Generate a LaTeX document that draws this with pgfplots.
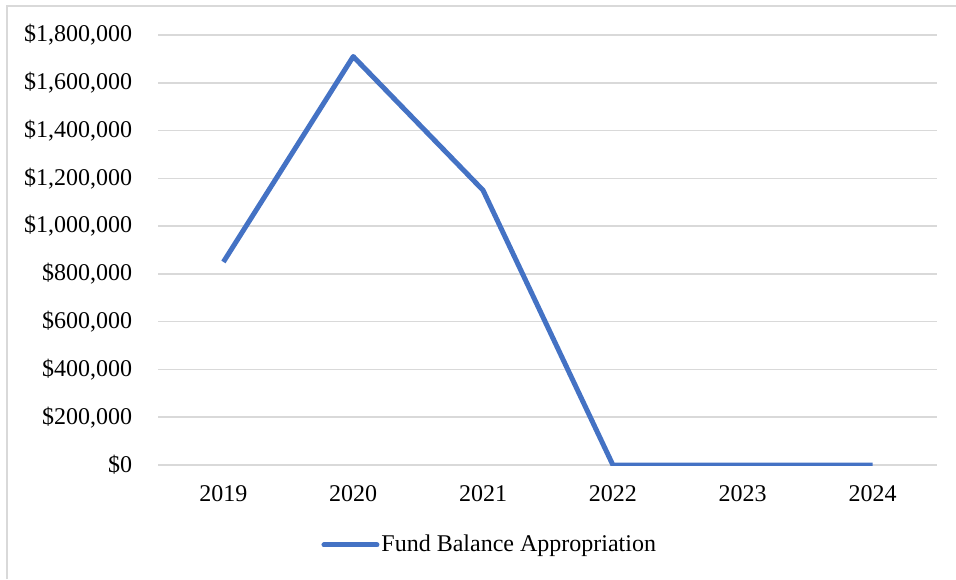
\documentclass[border=0pt]{standalone}
\usepackage{pgfplots}
\pgfplotsset{compat=1.18}
\usepackage{fontspec}
\setmainfont{Liberation Serif}
\definecolor{gridgray}{HTML}{D9D9D9}
\definecolor{lineblue}{HTML}{4472C4}
\begin{document}
\fontsize{12}{14}\selectfont
\begin{tikzpicture}
\path[use as bounding box] (0pt,0pt) rectangle (478pt,289.5pt);
\draw[gridgray, line width=0.8pt] (3.5pt,0pt) -- (3.5pt,286.5pt) -- (478pt,286.5pt);
\begin{axis}[
  at={(111.7pt,57pt)}, anchor=origin,
  scale only axis, width=389.5pt, height=215pt,
  xmin=-0.5, xmax=5.5, ymin=0, ymax=1800000,
  xtick={0,1,2,3,4,5},
  xticklabels={2019,2020,2021,2022,2023,2024},
  ytick={0,200000,400000,600000,800000,1000000,1200000,1400000,1600000,1800000},
  scaled y ticks=false,
  ymajorgrids, grid style={gridgray, line width=0.75pt},
  axis line style={draw=none},
  major tick length=0pt,
  /pgf/number format/assume math mode=true,
  yticklabel={\$\pgfmathprintnumber[fixed,precision=0,1000 sep={,}]{\tick}},
  yticklabel style={anchor=east, inner sep=0pt, xshift=-13pt},
  xticklabel style={anchor=north, inner sep=0pt, yshift=-10pt},
  tick label style={font=\fontsize{12}{14}\selectfont},
  legend style={at={(rel axis cs:0.201,-0.186)}, anchor=west, draw=none, fill=none,
    font=\fontsize{12}{14}\selectfont, nodes={inner sep=1pt}},
  legend image code/.code={\draw[#1, line cap=round] (0,0) -- (26.5pt,0);},
]
\addplot[lineblue, line width=2.5pt, line join=round] coordinates {
(0,850000) (1,1710000) (2,1150000) (3,0) (4,0) (5,0)};
\addlegendentry{Fund Balance Appropriation}
\end{axis}
\end{tikzpicture}
\end{document}
